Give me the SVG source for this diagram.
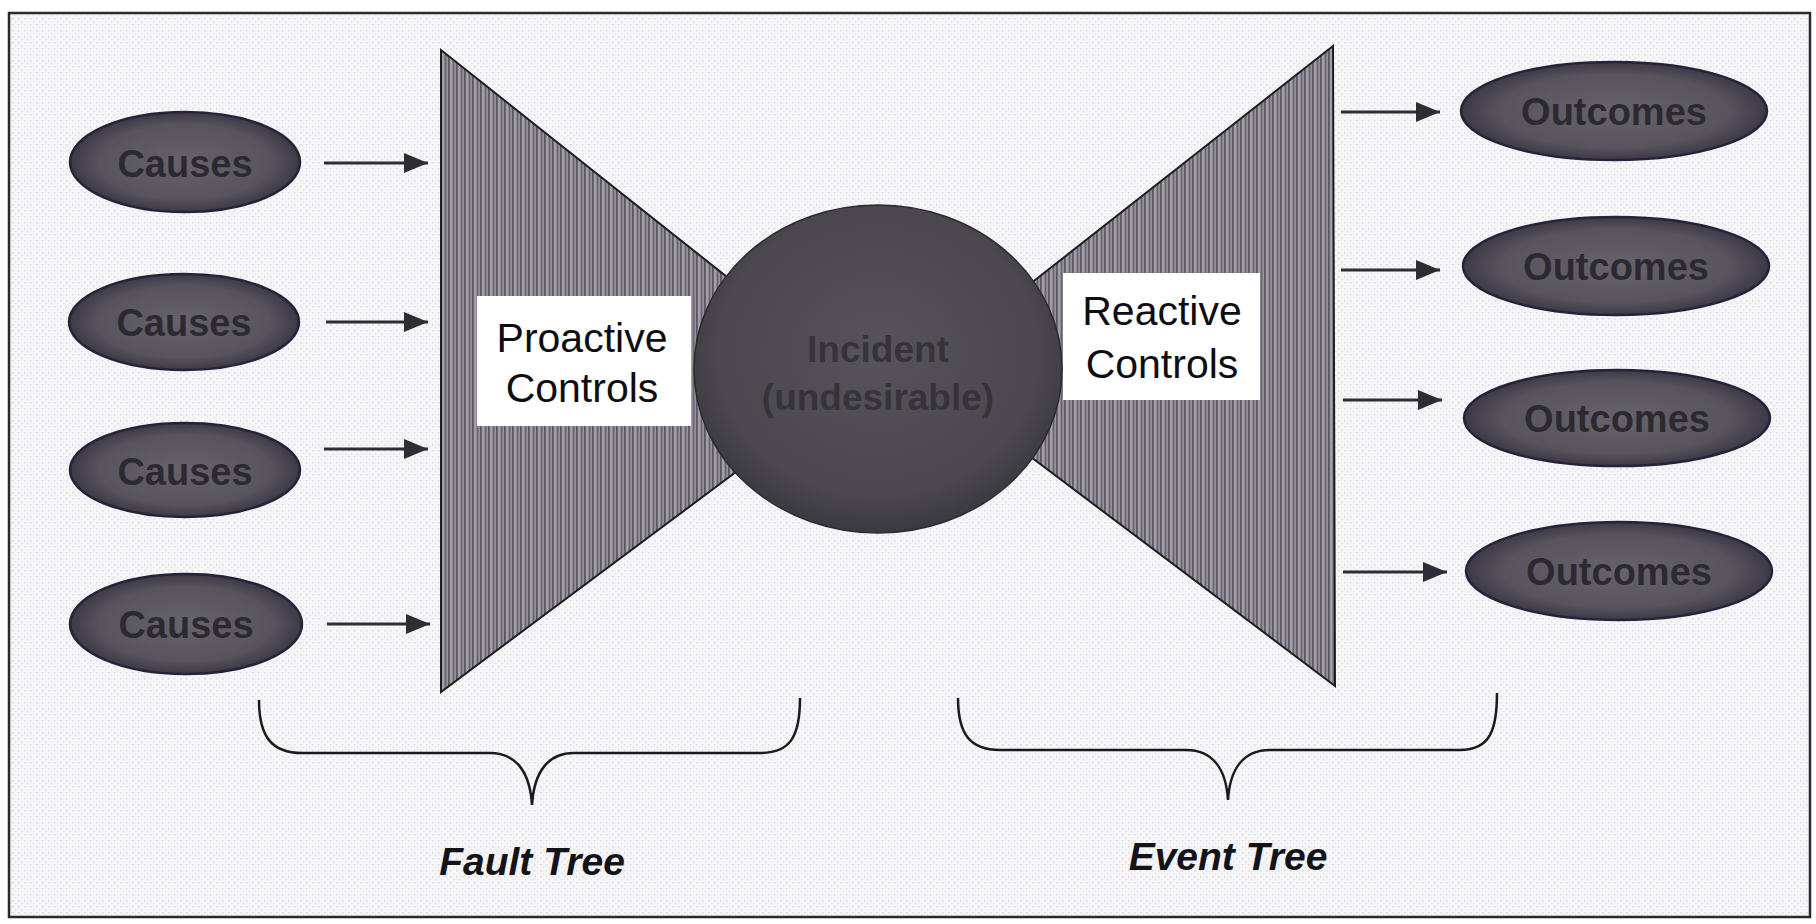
<svg xmlns="http://www.w3.org/2000/svg" width="1816" height="924" viewBox="0 0 1816 924">
  <style>
    .oval { stroke: #25233a; stroke-width: 2.5; }
    .ovtxt { font-family: "Liberation Sans", Arial, sans-serif; font-weight: bold; font-size: 38px; fill: #2c2a30; text-anchor: middle; }
    .inctxt { font-family: "Liberation Sans", Arial, sans-serif; font-weight: bold; font-size: 37px; fill: #36333b; text-anchor: middle; }
    .ctrl { fill: #ffffff; stroke: none; }
    .ctrltxt { font-family: "Liberation Sans", Arial, sans-serif; font-size: 41px; fill: #0e0e12; text-anchor: middle; }
    .lbl { font-family: "Liberation Sans", Arial, sans-serif; font-weight: bold; font-style: italic; font-size: 39px; fill: #141418; text-anchor: middle; }
    .arrow { stroke: #2e2c34; stroke-width: 3; fill: none; marker-end: url(#ah); }
    .brace { stroke: #1a1a1e; stroke-width: 2.5; fill: none; }
    .tie { fill: url(#stripes); stroke: #1e1e22; stroke-width: 2; }
  </style>
  <defs>
    <pattern id="bgdots" width="6" height="6" patternUnits="userSpaceOnUse">
      <rect width="6" height="6" fill="#f5f5f7"/>
      <rect x="0" y="0" width="1.5" height="1.5" fill="#dadae1"/>
      <rect x="3" y="3" width="1.2" height="1.2" fill="#e0e0e6"/>
    </pattern>
    <pattern id="stripes" width="8" height="4" patternUnits="userSpaceOnUse">
      <rect width="8" height="4" fill="#89858e"/>
      <rect x="0" y="0" width="1.6" height="4" fill="#5a5661"/>
      <rect x="2.5" y="0" width="1.2" height="4" fill="#b2aeb8"/>
      <rect x="5" y="0" width="1.4" height="4" fill="#6a6671"/>
      <rect x="6.8" y="0" width="0.8" height="4" fill="#a09ca6"/>
    </pattern>
    <radialGradient id="ovfill" cx="50%" cy="50%" r="50%">
      <stop offset="0" stop-color="#67636d"/>
      <stop offset="0.75" stop-color="#58545e"/>
      <stop offset="1" stop-color="#3c3945"/>
    </radialGradient>
    <radialGradient id="incfill" cx="50%" cy="45%" r="55%">
      <stop offset="0" stop-color="#57535a"/>
      <stop offset="0.8" stop-color="#4a474e"/>
      <stop offset="1" stop-color="#3b3940"/>
    </radialGradient>
    <marker id="ah" markerWidth="9" markerHeight="9" refX="8" refY="4.5" orient="auto" markerUnits="strokeWidth">
      <path d="M0,1.2 L8,4.5 L0,7.8 Z" fill="#2e2c34"/>
    </marker>
  </defs>

  <rect x="0" y="0" width="1816" height="924" fill="#ffffff"/>
  <rect id="frame" x="9" y="13" width="1801" height="904" fill="url(#bgdots)" stroke="#2a2a2e" stroke-width="2.5"/>

  <g id="bowtie-left">
    <polygon class="tie" points="441,50 441,692 858,381"/>
  </g>
  <g id="bowtie-right">
    <polygon class="tie" points="1333,46 1335,686 918,372"/>
  </g>

  <g id="proactive-controls">
    <rect class="ctrl" x="477" y="296" width="214" height="130"/>
    <text class="ctrltxt" x="582" y="352">Proactive</text>
    <text class="ctrltxt" x="582" y="402">Controls</text>
  </g>
  <g id="reactive-controls">
    <rect class="ctrl" x="1063" y="273" width="197" height="127"/>
    <text class="ctrltxt" x="1162" y="325">Reactive</text>
    <text class="ctrltxt" x="1162" y="378">Controls</text>
  </g>

  <g id="incident">
    <ellipse cx="878" cy="369" rx="184" ry="164" fill="url(#incfill)" stroke="#2c2a30" stroke-width="1.5"/>
    <text class="inctxt" x="878" y="362">Incident</text>
    <text class="inctxt" x="878" y="410">(undesirable)</text>
  </g>

  <g id="cause-1">
    <ellipse class="oval" cx="185" cy="162" rx="115" ry="50" fill="url(#ovfill)"/>
    <text class="ovtxt" x="185" y="177">Causes</text>
  </g>
  <g id="cause-2">
    <ellipse class="oval" cx="184" cy="322" rx="115" ry="48" fill="url(#ovfill)"/>
    <text class="ovtxt" x="184" y="336">Causes</text>
  </g>
  <g id="cause-3">
    <ellipse class="oval" cx="185" cy="470" rx="115" ry="47" fill="url(#ovfill)"/>
    <text class="ovtxt" x="185" y="485">Causes</text>
  </g>
  <g id="cause-4">
    <ellipse class="oval" cx="186" cy="624" rx="116" ry="50" fill="url(#ovfill)"/>
    <text class="ovtxt" x="186" y="638">Causes</text>
  </g>

  <g id="outcome-1">
    <ellipse class="oval" cx="1614" cy="111" rx="153" ry="49" fill="url(#ovfill)"/>
    <text class="ovtxt" x="1614" y="125">Outcomes</text>
  </g>
  <g id="outcome-2">
    <ellipse class="oval" cx="1616" cy="266" rx="153" ry="49" fill="url(#ovfill)"/>
    <text class="ovtxt" x="1616" y="280">Outcomes</text>
  </g>
  <g id="outcome-3">
    <ellipse class="oval" cx="1617" cy="418" rx="153" ry="48" fill="url(#ovfill)"/>
    <text class="ovtxt" x="1617" y="432">Outcomes</text>
  </g>
  <g id="outcome-4">
    <ellipse class="oval" cx="1619" cy="571" rx="153" ry="49" fill="url(#ovfill)"/>
    <text class="ovtxt" x="1619" y="585">Outcomes</text>
  </g>

  <g id="connectors">
    <line class="arrow" x1="324" y1="163" x2="428" y2="163"/>
    <line class="arrow" x1="326" y1="322" x2="428" y2="322"/>
    <line class="arrow" x1="324" y1="449" x2="428" y2="449"/>
    <line class="arrow" x1="327" y1="624" x2="430" y2="624"/>
    <line class="arrow" x1="1341" y1="112" x2="1440" y2="112"/>
    <line class="arrow" x1="1341" y1="270" x2="1440" y2="270"/>
    <line class="arrow" x1="1343" y1="400" x2="1442" y2="400"/>
    <line class="arrow" x1="1343" y1="572" x2="1447" y2="572"/>
  </g>

  <g id="fault-tree-brace">
    <path class="brace" d="M259,700 C259,737 272,753 302,753 L490,753 C516,753 530,772 532,805 C534,772 548,753 574,753 L760,753 C790,753 800,737 800,698"/>
    <text class="lbl" x="532" y="875">Fault Tree</text>
  </g>
  <g id="event-tree-brace">
    <path class="brace" d="M958,698 C958,734 970,750 1000,750 L1186,750 C1212,750 1226,768 1228,800 C1230,768 1244,750 1270,750 L1460,750 C1490,750 1497,730 1497,693"/>
    <text class="lbl" x="1228" y="870">Event Tree</text>
  </g>
</svg>
